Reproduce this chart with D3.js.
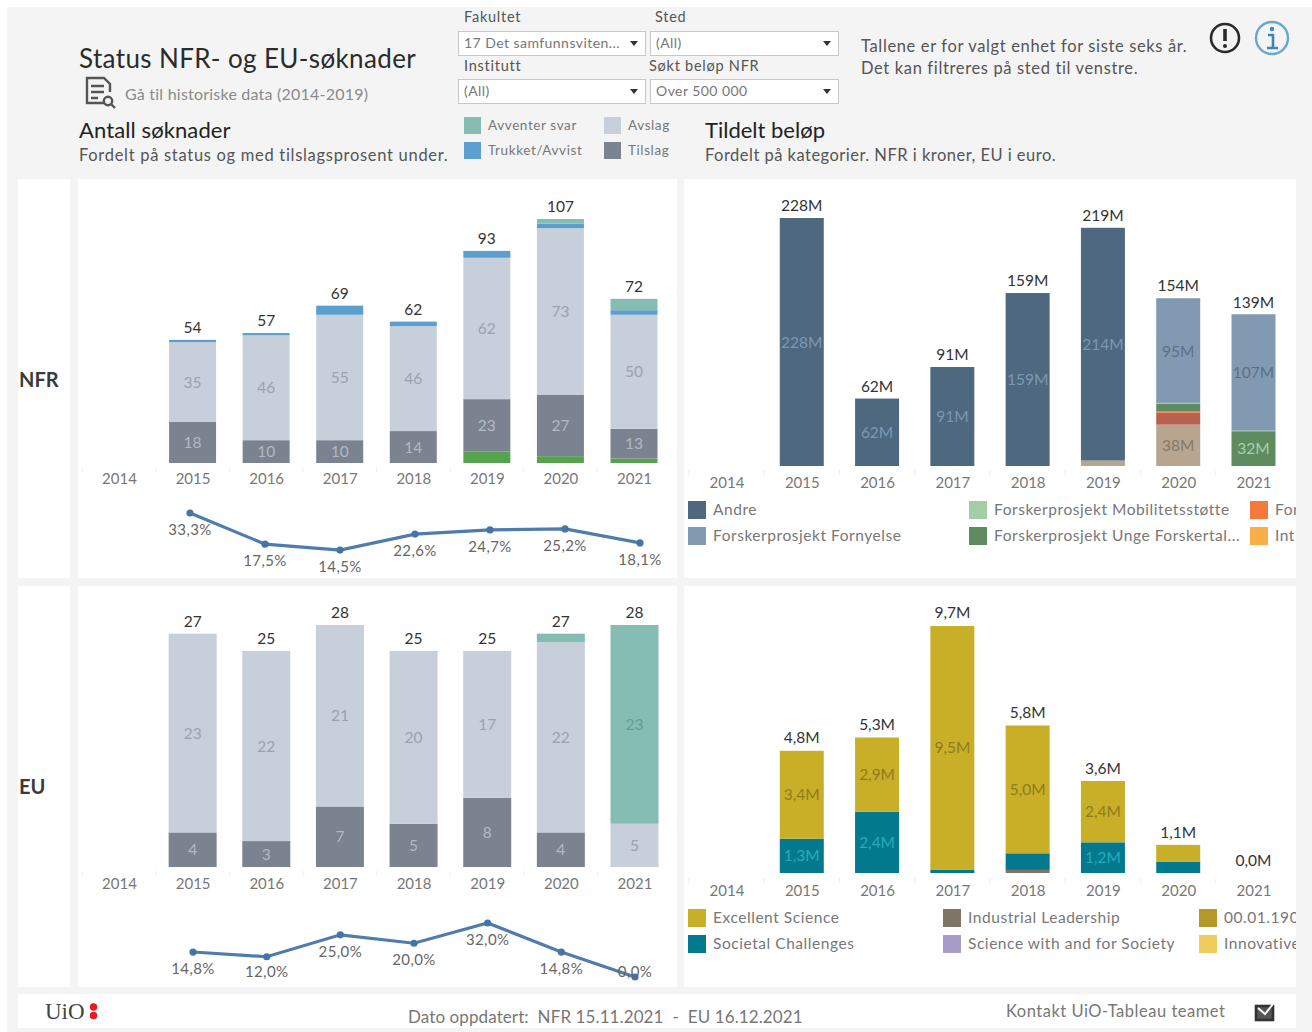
<!DOCTYPE html>
<html><head><meta charset="utf-8">
<script src="https://cdn.jsdelivr.net/npm/d3@7"></script>
<style>html,body{margin:0;padding:0;background:#fff}svg{display:block}text{font-family:"Lato","Noto Sans",sans-serif}</style>
</head><body><div id="c"></div>
<script>
// ---------- data ----------
const years = ["2014","2015","2016","2017","2018","2019","2020","2021"];
const lineYears = years.slice(1);

// antall søknader NFR
const nfrGreen     = [0,0,0,0,0,5,3,2];
const nfrTilslag   = [0,18,10,10,14,23,27,13];
const nfrAvslag    = [0,35,46,55,46,62,73,50];
const nfrTrukket   = [0,1,1,4,2,3,2,2];
const nfrAvventer  = [0,0,0,0,0,0,2,5];
const nfrTotals    = [null,54,57,69,62,93,107,72];
const nfrRate      = [33.3,17.5,14.5,22.6,24.7,25.2,18.1];

// antall søknader EU
const euTilslag    = [0,4,3,7,5,8,4,0];
const euAvslag     = [0,23,22,21,20,17,22,5];
const euAvventer   = [0,0,0,0,0,0,1,23];
const euTotals     = [null,27,25,28,25,25,27,28];
const euRate       = [14.8,12.0,25.0,20.0,32.0,14.8,0.0];

// tildelt beløp NFR (MNOK)
const belopTan     = [0,0,0,0,0,5,38,0];
const belopRed     = [0,0,0,0,0,0,11,0];
const belopOrange  = [0,0,0,0,0,0,1,0];
const belopUnge    = [0,0,0,0,0,0,7,32];
const belopMob     = [0,0,0,0,0,0,1,0.5];
const belopFornyelse=[0,0,0,0,0,0,95,107];
const belopAndre   = [0,228,62,91,159,214,1,0];
const belopTotals  = [null,228,62,91,159,219,154,139];

// tildelt beløp EU (M euro)
const euIndustrial = [0,0,0,0,0.12,0,0,0];
const euSocietal   = [0,1.34,2.4,0.12,0.65,1.2,0.45,0];
const euExcellent  = [0,3.44,2.9,9.54,5.0,2.4,0.65,0];
const euBelopTotals= [null,4.8,5.3,9.7,5.8,3.6,1.1,0.0];

const C={tilslag:"#7b8390",avslag:"#c6cfda",trukket:"#5c9fce",avventer:"#86bdb2",green:"#57a24f",
 andre:"#4e6880",forny:"#829ab1",tan:"#b8a590",red:"#b9604f",orange:"#f5793b",unge:"#5f8b61",mob:"#a3cda7",intl:"#fbad47",
 excellent:"#c9ae28",societal:"#02798c",industrial:"#7e7566",science:"#a59cc8",dark190:"#b5982a",innov:"#f0cb5e"};

const W=1312,H=1032,DARK="#333";
const svg=d3.select("#c").append("svg").attr("width",W).attr("height",H);
const defs=svg.append("defs");
defs.append("clipPath").attr("id","clipR").append("rect").attr("x",684).attr("y",179).attr("width",612).attr("height",810);

// backgrounds
const rect=(x,y,w,h,f,s)=>svg.append("rect").attr("x",x).attr("y",y).attr("width",w).attr("height",h).attr("fill",f).attr("stroke",s||"none");
const txt=(x,y,t,size,fill,o={})=>svg.append("text").attr("x",x).attr("y",y).attr("font-size",size).attr("fill",fill)
  .attr("text-anchor",o.anchor||"start").attr("font-weight",o.weight||400).attr("letter-spacing",o.ls||0).attr("clip-path",o.clip||null).text(t);
rect(7,7,W-7,H-7,"#f4f4f4");
[[18,179,52,399],[78,179,599,399],[684,179,612,399],[18,586,52,401],[78,586,599,401],[684,586,612,401],[18,994,1278,34]].forEach(r=>rect(...r,"#fff"));

// header
txt(79,68,"Status NFR- og EU-søknader",26,"#2b2b2b",{ls:.37});
txt(125,100,"Gå til historiske data (2014-2019)",16,"#8a8a8a",{ls:.22});
txt(79,138,"Antall søknader",22,"#222",{ls:.1});
txt(79,161,"Fordelt på status og med tilslagsprosent under.",16.5,"#555",{ls:.7});
txt(705,138,"Tildelt beløp",22,"#222");
txt(705,161,"Fordelt på kategorier. NFR i kroner, EU i euro.",16.5,"#555",{ls:.48});
txt(861,52,"Tallene er for valgt enhet for siste seks år.",16.5,"#555",{ls:.64});
txt(861,74,"Det kan filtreres på sted til venstre.",16.5,"#555",{ls:.64});

// filters
[[458,31,187,"17 Det samfunnsviten..."],[650,31,188,"(All)"],[458,79,187,"(All)"],[650,79,188,"Over 500 000"]].forEach(([x,y,w,t])=>{
  rect(x+.5,y+.5,w,24,"#fff","#c8c8c8");
  txt(x+6,y+17,t,14,"#777",{ls:.45});
  svg.append("path").attr("d",`M${x+w-15} ${y+10}h8l-4 5z`).attr("fill","#333");
});
[[464,22,"Fakultet"],[655,22,"Sted"],[464,71,"Institutt"],[649,71,"Søkt beløp NFR"]].forEach(([x,y,t])=>txt(x,y,t,14.5,"#555",{ls:.75}));

// status legend
const statusKeys=["Avventer svar","Trukket/Avvist","Avslag","Tilslag"];
const statusCols=[C.avventer,C.trukket,C.avslag,C.tilslag];
const statusPos=[[464,117],[464,142],[604,117],[604,142]];
statusKeys.forEach((k,i)=>{const [x,y]=statusPos[i];rect(x,y,17,17,statusCols[i]);txt(x+24,y+13,k,13.5,"#777",{ls:.6});});

// icons
const doc=svg.append("g").attr("fill","none").attr("stroke","#555").attr("stroke-width",2.4);
doc.append("path").attr("d","M104 103H87V78H104L110 84V92");
doc.append("path").attr("d","M91 86H104M91 92H104M91 98H98");
doc.append("circle").attr("cx",108).attr("cy",101).attr("r",4.2);
doc.append("path").attr("d","M111 104L115 108");
svg.append("circle").attr("cx",1225).attr("cy",38).attr("r",14).attr("fill","none").attr("stroke","#2a2a2a").attr("stroke-width",2.6);
svg.append("path").attr("d","M1225 29V41").attr("stroke","#2a2a2a").attr("stroke-width",3.6);
svg.append("circle").attr("cx",1225).attr("cy",46).attr("r",2).attr("fill","#2a2a2a");
svg.append("circle").attr("cx",1272).attr("cy",38).attr("r",16).attr("fill","none").attr("stroke","#69a6cf").attr("stroke-width",2.4);
svg.append("path").attr("d","M1268 35H1273V47M1267 48H1278").attr("fill","none").attr("stroke","#3a86bd").attr("stroke-width",2.6);
svg.append("circle").attr("cx",1272).attr("cy",29).attr("r",2.2).attr("fill","#3a86bd");

// row labels
txt(19,387,"NFR",20,"#3a3a3a",{weight:700});
txt(19,794,"EU",20,"#3a3a3a",{weight:700});

const fmtInt=d=>String(d);
const fmtM0=d=>d3.format(".0f")(d)+"M";
const fmtDec=d=>d3.format(".1f")(d).replace(".",",")+"M";
const fmtPct=d=>d3.format(".1f")(d).replace(".",",")+"%";

function stacked(cfg){
  const x=d3.scalePoint().domain(years).range(cfg.xr);
  const y=d3.scaleLinear().domain([0,cfg.max]).range([cfg.base,cfg.top]);
  const rows=years.map((yr,i)=>{const o={year:yr};cfg.series.forEach(s=>o[s.key]=s.values[i]);return o;});
  const stack=d3.stack().keys(cfg.series.map(s=>s.key))(rows);
  const g=svg.append("g");
  stack.forEach((layer,si)=>{
    const s=cfg.series[si];
    g.append("g").selectAll("rect").data(layer).join("rect")
      .attr("x",d=>x(d.data.year)-cfg.bw/2).attr("width",cfg.bw)
      .attr("y",d=>y(d[1])).attr("height",d=>y(d[0])-y(d[1])).attr("fill",s.color);
    g.append("g").selectAll("text").data(layer.filter(d=>y(d[0])-y(d[1])>=20)).join("text")
      .attr("x",d=>x(d.data.year)).attr("y",d=>(y(d[0])+y(d[1]))/2+5.5)
      .attr("text-anchor","middle").attr("font-size",cfg.fs).attr("fill",s.label)
      .text(d=>cfg.fmt(d[1]-d[0]));
  });
  g.append("g").selectAll("text").data(cfg.totals.map((v,i)=>({v,yr:years[i]})).filter(d=>d.v!==null)).join("text")
    .attr("x",d=>x(d.yr)).attr("y",d=>y(d.v)-7)
    .attr("text-anchor","middle").attr("font-size",cfg.fs).attr("fill",DARK)
    .text(d=>cfg.fmtT(d.v));
  const ax=svg.append("g").attr("transform",`translate(0,${cfg.axisY})`)
    .call(d3.axisBottom(x).tickSize(0).tickPadding(cfg.pad));
  ax.select(".domain").remove();
  ax.selectAll("text").attr("font-size",15).attr("fill","#777").style("font-family",'"Lato","Noto Sans",sans-serif');
  const step=x.step();
  svg.append("g").selectAll("line").data(years).join("line")
    .attr("x1",d=>x(d)-step/2).attr("x2",d=>x(d)-step/2).attr("y1",cfg.axisY).attr("y2",cfg.axisY+5).attr("stroke","#eee");
}
function rateLine(cfg){
  const x=d3.scalePoint().domain(lineYears).range(cfg.xr);
  const y=d3.scaleLinear().domain([0,cfg.max]).range([cfg.y0,cfg.y1]);
  const pts=cfg.values.map((v,i)=>({v,yr:lineYears[i]}));
  svg.append("path").datum(pts).attr("fill","none").attr("stroke","#4f7cac").attr("stroke-width",3.2)
    .attr("d",d3.line().x(d=>x(d.yr)).y(d=>y(d.v)));
  svg.append("g").selectAll("circle").data(pts).join("circle").attr("cx",d=>x(d.yr)).attr("cy",d=>y(d.v)).attr("r",3.6).attr("fill","#4475a6");
  svg.append("g").selectAll("text").data(pts).join("text").attr("x",d=>x(d.yr)).attr("y",d=>Math.min(y(d.v)+22,cfg.maxLabelY))
    .attr("text-anchor","middle").attr("font-size",15).attr("letter-spacing",.4).attr("fill","#666").text(d=>fmtPct(d.v));
}

stacked({xr:[119,634],bw:47,max:107,base:463,top:219,axisY:467,pad:6,fs:15.5,fmt:fmtInt,fmtT:fmtInt,totals:nfrTotals,series:[
 {key:"green",values:nfrGreen,color:C.green,label:"#8fc98a"},
 {key:"tilslag",values:nfrTilslag,color:C.tilslag,label:"#b3b9c2"},
 {key:"avslag",values:nfrAvslag,color:C.avslag,label:"#9aa3ae"},
 {key:"trukket",values:nfrTrukket,color:C.trukket,label:"#fff"},
 {key:"avventer",values:nfrAvventer,color:C.avventer,label:"#fff"}]});
rateLine({xr:[190,640],values:nfrRate,max:33.3,y0:578.6,y1:513,maxLabelY:600});

stacked({xr:[119,634.5],bw:48,max:28,base:867,top:625,axisY:871,pad:7,fs:15.5,fmt:fmtInt,fmtT:fmtInt,totals:euTotals,series:[
 {key:"tilslag",values:euTilslag,color:C.tilslag,label:"#b3b9c2"},
 {key:"avslag",values:euAvslag,color:C.avslag,label:"#9aa3ae"},
 {key:"avventer",values:euAvventer,color:C.avventer,label:"#5f9f94"}]});
rateLine({xr:[193,635],values:euRate,max:32,y0:977,y1:923,maxLabelY:977});

stacked({xr:[726.5,1253.5],bw:44,max:228,base:466,top:218,axisY:470,pad:7,fs:15.5,fmt:fmtM0,fmtT:fmtM0,totals:belopTotals,series:[
 {key:"tan",values:belopTan,color:C.tan,label:"#85786a"},
 {key:"red",values:belopRed,color:C.red,label:"#fff"},
 {key:"orange",values:belopOrange,color:C.orange,label:"#fff"},
 {key:"unge",values:belopUnge,color:C.unge,label:"#a6d1aa"},
 {key:"mob",values:belopMob,color:C.mob,label:"#fff"},
 {key:"forny",values:belopFornyelse,color:C.forny,label:"#5c7088"},
 {key:"andre",values:belopAndre,color:C.andre,label:"#7d97b1"}]});

stacked({xr:[726.5,1253.5],bw:44,max:9.7,base:873,top:625,axisY:878,pad:7,fs:15.5,fmt:fmtDec,fmtT:fmtDec,totals:euBelopTotals,series:[
 {key:"industrial",values:euIndustrial,color:C.industrial,label:"#fff"},
 {key:"societal",values:euSocietal,color:C.societal,label:"#2aa9bd"},
 {key:"excellent",values:euExcellent,color:C.excellent,label:"#8f7c1e"}]});

// amount legends
const nfrLegendNames=["Andre","Forskerprosjekt Fornyelse","Forskerprosjekt Mobilitetsstøtte","Forskerprosjekt Unge Forskertal...","For","Int"];
const nfrLegendCols=[C.andre,C.forny,C.mob,C.unge,C.orange,C.intl];
const nfrLegendX=[688,688,969,969,1250,1250];
const euLegendNames=["Excellent Science","Societal Challenges","Industrial Leadership","Science with and for Society","00.01.190","Innovative"];
const euLegendCols=[C.excellent,C.societal,C.industrial,C.science,C.dark190,C.innov];
const euLegendX=[688,688,943,943,1199,1199];
function legend(names,cols,xs,y0){names.forEach((n,i)=>{const y=y0+(i%2)*26;rect(xs[i],y,18,18,cols[i]);
  txt(xs[i]+25,y+14,n,15.5,"#777",{clip:"url(#clipR)",ls:.55});});}
legend(nfrLegendNames,nfrLegendCols,nfrLegendX,501);
legend(euLegendNames,euLegendCols,euLegendX,909);

// footer
svg.append("text").attr("x",45).attr("y",1019).attr("font-size",23).attr("fill","#444").style("font-family",'"Liberation Serif",serif').text("UiO");
[1007,1015.5].forEach(cy=>svg.append("circle").attr("cx",93.5).attr("cy",cy).attr("r",3.7).attr("fill","#e8191f"));
txt(408,1023,"Dato oppdatert:  NFR 15.11.2021  -  EU 16.12.2021",17,"#777",{ls:.1}).attr("xml:space","preserve").style("white-space","pre");
txt(1006,1017,"Kontakt UiO-Tableau teamet",16.5,"#777",{ls:.52});
rect(1256,1006,17,14,"#555","#333").attr("stroke-width",2.6);
svg.append("path").attr("d","M1258 1008L1265 1014L1273 1004").attr("fill","none").attr("stroke","#fff").attr("stroke-width",2);
</script></body></html>
